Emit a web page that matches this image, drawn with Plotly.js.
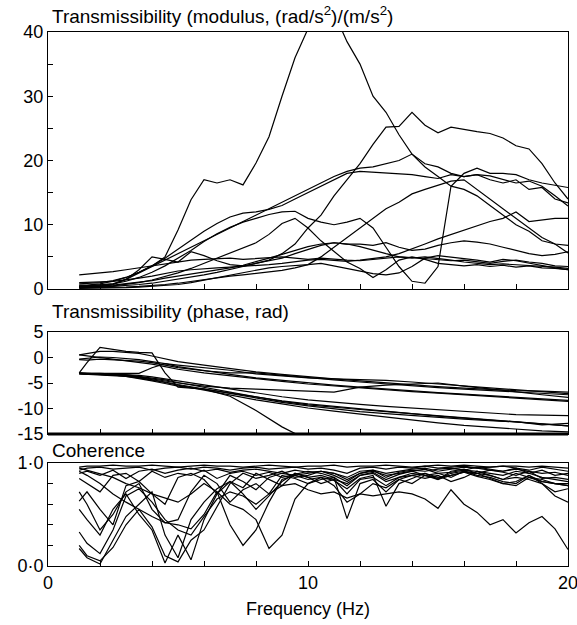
<!DOCTYPE html>
<html>
<head>
<meta charset="utf-8">
<script src="https://cdn.plot.ly/plotly-3.0.1.min.js"></script>
<style>html,body{margin:0;padding:0;background:#fff;}</style>
</head>
<body>
<div id="chart" style="width:577px;height:625px;"></div>
<script>
// Frequency grids (Hz)
const freq = [1.2,1.5,2,2.5,3,3.5,4,4.5,5,5.5,6,6.5,7,7.5,8,8.5,9,9.5,10,10.5,11,11.5,12,12.5,13,13.5,14,14.5,15,15.5,16,16.5,17,17.5,18,18.5,19,19.5,20];
const freqPhase = [1.2,1.5,2,2.5,3,3.5,4,4.5,5,6,7,8,9,10,11,12,13,14,15,16,17,18,19,20];

// Transmissibility modulus, one array per subject
const mod1 = [0.6,0.6,0.8,1.2,1.8,2.6,3.6,5.0,9.2,13.9,17.0,16.5,17.0,16.2,19.6,23.7,30.0,36.0,40.5,44.0,43.0,38.5,35.0,30.0,27.5,24.0,21.0,19.0,17.5,16.0,15.5,14.5,13.0,11.5,10.0,9.0,7.5,7.0,6.8];
const mod2 = [0.2,0.2,0.3,0.4,0.5,0.7,0.9,1.2,1.5,1.8,2.2,2.6,3.0,3.5,4.0,4.5,5.5,7.0,9.5,11.5,14.5,17.0,19.5,22.5,25.2,25.3,27.5,25.5,24.3,25.2,24.8,24.5,24.2,23.5,22.3,21.8,19.5,16.5,14.0];
const mod3 = [0.4,0.5,0.6,0.8,1.5,2.5,3.5,4.5,5.5,6.5,7.5,8.5,9.5,10.5,11.5,12.5,13.5,14.5,15.5,16.5,17.5,18.3,18.8,19.0,19.5,20.0,21.0,19.5,19.0,18.0,17.5,17.8,17.6,17.0,16.5,16.8,16.0,14.5,12.9];
const mod4 = [0.8,0.9,1.0,1.3,1.8,2.6,3.6,4.8,6.2,7.6,9.0,10.2,11.2,11.8,12.0,12.4,13.0,14.0,15.0,16.0,17.0,18.0,18.3,18.2,18.0,17.9,17.8,17.5,17.2,17.8,17.5,17.8,17.0,16.5,17.0,15.5,15.8,14.0,13.4];
const mod5 = [0.3,0.3,0.4,0.5,0.7,1.0,1.4,1.9,2.5,3.2,4.0,4.8,5.6,6.3,7.2,8.5,10.2,11.0,9.5,7.5,5.8,4.2,3.2,1.8,3.0,4.5,5.0,4.6,4.0,3.8,3.6,3.8,3.5,3.7,3.4,3.6,3.3,3.2,3.0];
const mod6 = [0.2,0.2,0.2,0.3,0.3,0.4,0.5,0.7,0.9,1.2,1.5,1.8,2.0,2.2,2.4,2.6,2.9,3.3,3.8,5.0,6.5,8.0,9.5,11.0,12.5,13.5,14.8,15.5,16.2,16.8,17.0,15.5,14.0,12.5,11.0,9.5,8.0,7.0,5.6];
const mod7 = [0.5,0.5,0.6,0.8,1.2,1.8,2.6,3.6,4.8,6.0,7.4,8.6,9.6,10.4,11.0,11.6,12.0,12.1,11.0,10.4,10.0,10.4,11.0,9.5,6.5,3.5,1.2,0.9,3.5,16.0,18.0,18.8,18.0,18.0,17.8,17.0,16.5,16.2,15.8];
const mod8 = [1.0,1.0,1.1,1.2,1.4,1.7,2.0,2.4,2.8,3.0,3.2,3.3,3.4,3.5,3.6,3.8,4.0,4.3,4.5,4.6,4.4,4.3,4.5,4.8,5.0,5.5,6.2,7.0,7.8,8.5,9.2,9.8,10.5,11.0,12.0,10.5,10.8,11.0,11.0];
const mod9 = [0.4,0.4,0.5,0.6,0.8,1.0,1.3,1.7,2.0,2.3,2.6,3.0,3.3,3.7,4.2,4.8,5.4,6.0,6.6,7.0,7.2,7.0,7.0,6.8,7.2,6.5,6.0,6.2,6.8,7.2,7.5,7.3,7.0,6.5,6.0,5.5,5.2,5.4,5.8];
const mod10 = [2.2,2.3,2.5,2.7,3.0,3.3,3.6,4.0,4.3,4.5,4.6,4.7,4.8,4.6,4.7,4.8,5.0,4.8,4.6,4.8,4.6,4.5,4.4,4.6,4.8,5.0,4.9,4.7,4.6,4.4,4.5,4.2,4.0,4.3,4.5,4.2,4.0,3.6,3.5];
const mod11 = [0.3,0.3,0.4,0.7,1.5,3.0,5.0,4.6,4.2,5.8,5.2,4.4,3.8,3.6,4.0,4.4,4.8,5.5,6.2,6.8,7.2,7.0,6.6,6.0,5.5,5.0,4.8,5.0,4.8,4.5,4.2,4.0,3.8,3.9,3.8,3.6,3.5,3.4,3.2];
const mod12 = [0.1,0.1,0.1,0.2,0.2,0.3,0.4,0.5,0.7,1.0,1.4,1.8,2.2,2.6,3.0,3.3,3.5,3.6,3.8,4.0,3.6,3.2,2.8,2.4,2.2,2.5,3.5,4.8,5.2,5.0,4.8,4.5,4.2,4.6,4.4,4.0,3.6,3.3,3.0];
const modulusSeries = [mod1,mod2,mod3,mod4,mod5,mod6,mod7,mod8,mod9,mod10,mod11,mod12];

// Transmissibility phase (rad)
const ph1 = [0.5,0.8,1.2,1.2,1.0,0.8,0.3,-0.3,-0.8,-1.5,-2.2,-2.8,-3.3,-3.8,-4.2,-4.6,-5.0,-5.4,-5.7,-6.0,-6.3,-6.5,-6.6,-6.8];
const ph2 = [-0.4,-0.5,-0.3,-0.4,-0.5,-0.7,-1.0,-1.5,-2.0,-2.6,-3.0,-3.0,-3.5,-3.9,-4.4,-4.8,-5.2,-5.6,-5.9,-6.2,-6.5,-6.8,-7.0,-7.3];
const ph3 = [-3.1,-3.1,-3.1,-3.2,-3.2,-3.1,-2.0,-1.2,-1.5,-2.0,-2.5,-3.2,-3.6,-4.0,-4.2,-4.3,-4.5,-4.8,-5.2,-5.6,-6.0,-6.4,-6.8,-7.1];
const ph4 = [-3.2,-3.3,-3.3,-3.4,-3.5,-3.8,-4.2,-4.6,-5.0,-5.6,-6.0,-6.2,-6.4,-6.6,-6.8,-5.8,-5.4,-5.2,-5.0,-5.6,-6.2,-6.8,-7.3,-7.8];
const ph5 = [0.5,0.3,0.0,-0.3,-0.6,-0.9,-1.3,-1.8,-2.3,-3.0,-3.6,-4.2,-4.7,-5.2,-5.6,-6.0,-6.4,-6.7,-7.0,-7.3,-7.6,-7.9,-8.2,-8.6];
const ph6 = [-0.3,-0.1,0.1,0.0,-0.2,-0.4,-0.8,-1.2,-1.8,-2.6,-3.3,-4.0,-4.5,-5.0,-5.4,-5.8,-6.2,-6.5,-6.9,-7.2,-7.5,-7.8,-8.1,-8.4];
const ph7 = [-3.0,-1.0,2.0,1.6,1.2,1.0,0.9,-3.0,-5.8,-6.2,-7.0,-7.8,-8.5,-9.1,-9.6,-10.1,-10.6,-11.1,-11.5,-11.9,-12.3,-12.7,-13.1,-13.4];
const ph8 = [-3.1,-3.2,-3.2,-3.3,-3.4,-3.7,-4.0,-4.4,-4.9,-5.9,-6.8,-7.7,-8.6,-9.3,-9.8,-10.2,-10.6,-11.0,-11.4,-11.8,-12.2,-12.6,-13.0,-13.4];
const ph9 = [-3.0,-3.1,-3.1,-3.2,-3.3,-3.5,-3.8,-4.2,-4.6,-5.4,-6.2,-7.0,-7.7,-8.3,-8.8,-9.2,-9.6,-9.9,-10.3,-10.6,-10.9,-11.2,-11.3,-11.4];
const ph10 = [-3.2,-3.3,-3.4,-3.5,-3.7,-4.0,-4.4,-4.9,-5.4,-6.4,-7.4,-8.3,-9.1,-9.9,-10.5,-11.1,-11.7,-12.3,-12.8,-13.3,-13.7,-14.1,-14.4,-14.6];
const ph11 = [-3.0,-3.1,-3.2,-3.4,-3.7,-4.1,-4.6,-5.1,-5.6,-6.2,-7.6,-10.4,-13.6,-16.2,-17.8,-18.8,-19.6,-20.3,-21.0,-21.6,-22.2,-22.8,-23.3,-23.8];
const ph12 = [-3.1,-3.2,-3.3,-3.4,-3.6,-3.9,-4.3,-4.8,-5.3,-6.2,-7.1,-8.0,-8.8,-9.5,-10.1,-10.6,-11.0,-11.4,-11.8,-12.1,-12.4,-12.6,-13.2,-12.9];
const phaseSeries = [ph1,ph2,ph3,ph4,ph5,ph6,ph7,ph8,ph9,ph10,ph11,ph12];

// Coherence
const coh1 = [0.96,0.97,0.97,0.98,0.97,0.97,0.98,0.97,0.96,0.97,0.98,0.97,0.97,0.96,0.97,0.98,0.97,0.96,0.97,0.97,0.98,0.96,0.97,0.97,0.98,0.97,0.96,0.97,0.98,0.97,0.98,0.97,0.96,0.97,0.97,0.96,0.97,0.96,0.95];
const coh2 = [0.93,0.95,0.96,0.94,0.95,0.96,0.93,0.95,0.96,0.94,0.96,0.95,0.93,0.95,0.96,0.94,0.95,0.96,0.94,0.95,0.93,0.90,0.95,0.96,0.94,0.96,0.95,0.97,0.95,0.96,0.97,0.95,0.96,0.97,0.95,0.93,0.96,0.94,0.92];
const coh3 = [0.90,0.92,0.88,0.93,0.85,0.92,0.94,0.90,0.93,0.95,0.92,0.94,0.91,0.93,0.94,0.92,0.90,0.93,0.91,0.92,0.88,0.82,0.90,0.93,0.86,0.91,0.93,0.92,0.94,0.95,0.93,0.96,0.94,0.92,0.95,0.90,0.93,0.88,0.90];
const coh4 = [0.85,0.80,0.72,0.88,0.90,0.82,0.92,0.86,0.90,0.88,0.93,0.85,0.90,0.92,0.88,0.91,0.86,0.89,0.92,0.90,0.86,0.78,0.88,0.91,0.84,0.89,0.92,0.88,0.84,0.92,0.94,0.90,0.93,0.91,0.88,0.92,0.85,0.86,0.84];
const coh5 = [0.63,0.72,0.55,0.40,0.78,0.82,0.70,0.60,0.86,0.90,0.84,0.70,0.88,0.82,0.74,0.86,0.90,0.88,0.84,0.86,0.83,0.75,0.85,0.88,0.58,0.80,0.85,0.90,0.86,0.88,0.91,0.87,0.84,0.80,0.78,0.86,0.82,0.80,0.78];
const coh6 = [0.72,0.60,0.35,0.50,0.72,0.80,0.55,0.42,0.45,0.72,0.88,0.80,0.62,0.74,0.80,0.70,0.88,0.85,0.80,0.84,0.86,0.46,0.80,0.84,0.72,0.84,0.88,0.85,0.88,0.82,0.86,0.92,0.88,0.84,0.86,0.84,0.80,0.72,0.75];
const coh7 = [0.33,0.22,0.12,0.35,0.68,0.75,0.62,0.45,0.35,0.30,0.48,0.65,0.72,0.68,0.60,0.70,0.78,0.80,0.74,0.70,0.72,0.66,0.70,0.68,0.70,0.72,0.70,0.65,0.56,0.74,0.60,0.52,0.40,0.45,0.32,0.42,0.48,0.36,0.16];
const coh8 = [0.17,0.08,0.02,0.25,0.48,0.60,0.72,0.30,0.08,0.45,0.62,0.75,0.82,0.70,0.55,0.68,0.82,0.90,0.86,0.80,0.84,0.80,0.88,0.90,0.82,0.86,0.88,0.90,0.84,0.88,0.91,0.90,0.85,0.80,0.82,0.88,0.80,0.68,0.62];
const coh9 = [0.20,0.10,0.05,0.18,0.40,0.55,0.38,0.10,0.04,0.25,0.35,0.58,0.80,0.90,0.85,0.88,0.92,0.86,0.88,0.92,0.90,0.84,0.90,0.92,0.88,0.90,0.92,0.94,0.90,0.91,0.93,0.92,0.90,0.88,0.92,0.90,0.86,0.84,0.82];
const coh10 = [0.92,0.88,0.80,0.70,0.62,0.55,0.48,0.42,0.40,0.36,0.50,0.72,0.40,0.20,0.35,0.62,0.84,0.88,0.90,0.92,0.90,0.86,0.92,0.93,0.90,0.92,0.94,0.95,0.92,0.94,0.96,0.95,0.93,0.92,0.94,0.92,0.90,0.91,0.88];
const coh11 = [0.95,0.93,0.90,0.86,0.80,0.76,0.70,0.66,0.62,0.70,0.80,0.72,0.60,0.55,0.45,0.17,0.30,0.65,0.80,0.86,0.78,0.62,0.70,0.80,0.76,0.84,0.80,0.88,0.85,0.90,0.92,0.88,0.86,0.82,0.80,0.88,0.82,0.80,0.78];
const coh12 = [0.55,0.45,0.30,0.55,0.70,0.50,0.35,0.03,0.30,0.06,0.45,0.70,0.82,0.76,0.90,0.84,0.78,0.90,0.86,0.88,0.84,0.70,0.84,0.86,0.78,0.86,0.90,0.88,0.90,0.86,0.92,0.90,0.88,0.84,0.90,0.86,0.84,0.80,0.80];
const coherenceSeries = [coh1,coh2,coh3,coh4,coh5,coh6,coh7,coh8,coh9,coh10,coh11,coh12];

// Tick labels (major labelled ticks; minor ticks unlabelled)
const xTickVals = [0,10,20];
const xTickText = ['0','10','20'];
const modTickVals = [0,10,20,30,40];
const modTickText = ['0','10','20','30','40'];
const phaseTickVals = [-15,-10,-5,0,5];
const phaseTickText = ['-15','-10','-5','0','5'];
const cohTickVals = [0,1];
const cohTickText = ['0·0','1·0'];

const lineStyle = {color:'#000', width:1.2};
const traces = [];
modulusSeries.forEach(s => traces.push({x:freq, y:s, xaxis:'x', yaxis:'y', mode:'lines', line:lineStyle, hoverinfo:'skip'}));
phaseSeries.forEach(s => traces.push({x:freqPhase, y:s, xaxis:'x2', yaxis:'y2', mode:'lines', line:lineStyle, hoverinfo:'skip'}));
coherenceSeries.forEach(s => traces.push({x:freq, y:s, xaxis:'x3', yaxis:'y3', mode:'lines', line:lineStyle, hoverinfo:'skip'}));

const H = 556, BOT = 566;
const dom = (top, bottom) => [(BOT-bottom)/H, (BOT-top)/H];

const minorTicks = d => ({dtick:d, tick0:0, ticks:'inside', ticklen:5, tickwidth:1, tickcolor:'#000', showgrid:false});
const baseAxis = {
  showline:true, mirror:true, linecolor:'#000', linewidth:1,
  ticks:'inside', ticklen:5, tickwidth:1, tickcolor:'#000',
  showgrid:false, zeroline:false, fixedrange:true, tickmode:'array',
  ticklabeloverflow:'allow'
};
const xa = (anchor, labels) => Object.assign({}, baseAxis, {
  anchor:anchor, domain:[0,1], range:[0,20], tickvals:xTickVals, ticktext:xTickText,
  showticklabels:labels, minor:minorTicks(2)
});

const layout = {
  width:577, height:625,
  margin:{l:48, r:9, t:10, b:59},
  paper_bgcolor:'#fff', plot_bgcolor:'#fff',
  showlegend:false,
  font:{family:'"Liberation Sans", Arial, sans-serif', size:18, color:'#000'},
  xaxis: xa('y', false),
  yaxis: Object.assign({}, baseAxis, {anchor:'x', domain:dom(32,289), range:[0,40], tickvals:modTickVals, ticktext:modTickText, minor:minorTicks(5)}),
  xaxis2: xa('y2', false),
  yaxis2: Object.assign({}, baseAxis, {anchor:'x2', domain:dom(332,434), range:[-15,5], tickvals:phaseTickVals, ticktext:phaseTickText}),
  xaxis3: Object.assign(xa('y3', true), {title:{text:'Frequency (Hz)', font:{size:18}, standoff:10}}),
  yaxis3: Object.assign({}, baseAxis, {anchor:'x3', domain:dom(463,566), range:[0,1], tickvals:cohTickVals, ticktext:cohTickText, minor:minorTicks(0.2)}),
  shapes:[
    {type:'line', xref:'x2 domain', yref:'y2 domain', x0:0, x1:1, y0:0, y1:0, line:{color:'#000', width:3}}
  ],
  annotations:[
    {xref:'paper', yref:'paper', x:0.004, y:(BOT-15)/H, xanchor:'left', yanchor:'middle', showarrow:false,
     text:'Transmissibility (modulus, (rad/s<sup>2</sup>)/(m/s<sup>2</sup>)', font:{size:19}},
    {xref:'paper', yref:'paper', x:0.004, y:(BOT-311)/H, xanchor:'left', yanchor:'middle', showarrow:false,
     text:'Transmissibility (phase, rad)', font:{size:19}},
    {xref:'paper', yref:'paper', x:0.004, y:(BOT-450)/H, xanchor:'left', yanchor:'middle', showarrow:false,
     text:'Coherence', font:{size:19}}
  ]
};

Plotly.newPlot('chart', traces, layout, {staticPlot:true, displayModeBar:false});
</script>
</body>
</html>
